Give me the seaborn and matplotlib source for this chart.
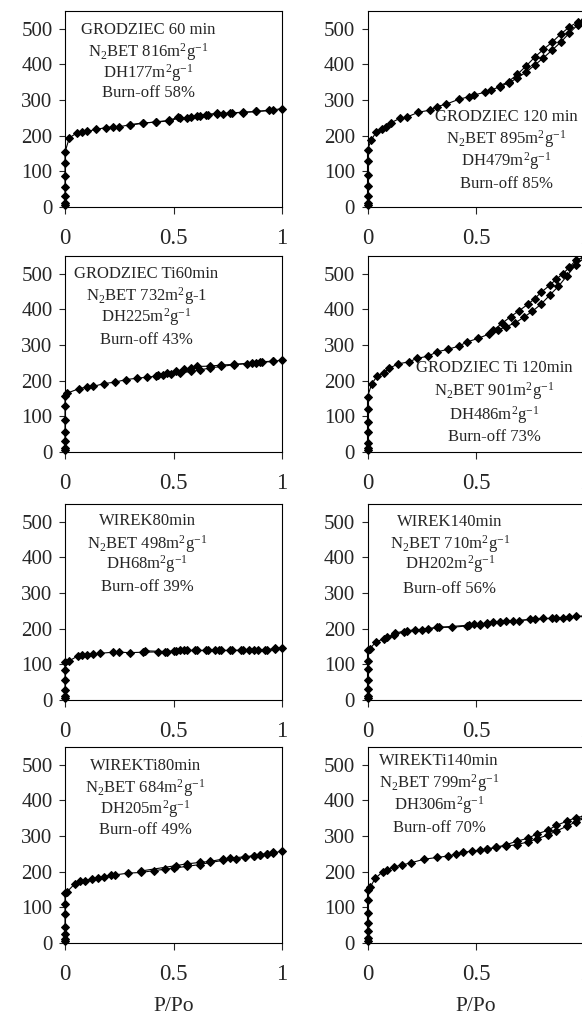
import matplotlib
matplotlib.use("Agg")
import matplotlib.pyplot as plt
import seaborn as sns

# N2 isotherms, adsorbed volume vs relative pressure P/Po
# ads = adsorption branch, des = desorption branch

# GRODZIEC 60 min
g60_ads_p = [0, 0, 0, 0, 0, 0, 0, 0.02, 0.055, 0.08, 0.10, 0.145, 0.19, 0.22, 0.25, 0.30,
             0.36, 0.42, 0.48, 0.53, 0.58, 0.61, 0.65, 0.70, 0.77, 0.82, 0.88, 0.94, 1.0]
g60_ads_v = [5, 12, 30, 56, 87, 124, 154, 194, 208, 210, 212, 218, 223, 225, 225, 231,
             236, 238, 242, 250, 252, 255, 259, 262, 264, 265, 268, 271, 276]
g60_des_p = [0.96, 0.88, 0.82, 0.76, 0.73, 0.70, 0.66, 0.62, 0.56, 0.52, 0.48, 0.42, 0.36, 0.30]
g60_des_v = [272, 268, 266, 264, 260, 263, 259, 256, 250, 252, 243, 239, 235, 230]

# GRODZIEC 120 min
g120_ads_p = [0, 0, 0, 0, 0, 0, 0, 0.017, 0.04, 0.065, 0.083, 0.11, 0.15, 0.18, 0.235, 0.29,
              0.32, 0.36, 0.42, 0.47, 0.49, 0.54, 0.57, 0.61, 0.65, 0.69, 0.73, 0.77, 0.81,
              0.85, 0.89, 0.93, 0.97, 1.0]
g120_ads_v = [5, 12, 30, 60, 90, 128, 160, 188, 210, 220, 225, 237, 249, 252, 266, 272,
              282, 288, 302, 310, 314, 322, 328, 338, 348, 362, 378, 398, 418,
              440, 462, 488, 512, 525]
g120_des_p = [1.0, 0.97, 0.93, 0.89, 0.85, 0.81, 0.77, 0.73, 0.69, 0.65, 0.61]
g120_des_v = [528, 520, 505, 485, 462, 442, 420, 395, 372, 352, 340]

# GRODZIEC Ti 60 min
gti60_ads_p = [0, 0, 0, 0, 0, 0, 0, 0.01, 0.065, 0.10, 0.13, 0.18, 0.23, 0.28, 0.33, 0.38,
               0.42, 0.45, 0.49, 0.53, 0.58, 0.62, 0.67, 0.72, 0.78, 0.84, 0.88, 0.91, 0.96, 1.0]
gti60_ads_v = [5, 10, 30, 55, 90, 128, 158, 165, 178, 182, 184, 192, 196, 203, 207, 210,
               213, 217, 220, 222, 226, 230, 236, 240, 245, 248, 249, 252, 254, 258]
gti60_des_p = [0.96, 0.90, 0.86, 0.78, 0.72, 0.67, 0.61, 0.58, 0.55, 0.51, 0.47, 0.43]
gti60_des_v = [255, 253, 250, 246, 244, 241, 240, 236, 232, 226, 222, 217]

# GRODZIEC Ti 120 min
gti120_ads_p = [0, 0, 0, 0, 0, 0, 0, 0.02, 0.045, 0.075, 0.10, 0.14, 0.19, 0.23, 0.28, 0.32,
                0.37, 0.42, 0.46, 0.51, 0.56, 0.60, 0.64, 0.68, 0.72, 0.76, 0.80, 0.84, 0.88,
                0.92, 0.96, 1.0]
gti120_ads_v = [5, 10, 25, 55, 85, 122, 155, 192, 213, 222, 235, 247, 253, 263, 269, 281,
                288, 297, 309, 319, 331, 342, 352, 362, 378, 395, 415, 440, 465,
                495, 525, 545]
gti120_des_p = [1.0, 0.96, 0.93, 0.90, 0.87, 0.84, 0.80, 0.77, 0.74, 0.70, 0.66, 0.62, 0.58]
gti120_des_v = [548, 538, 518, 500, 485, 468, 448, 430, 415, 397, 380, 361, 342]

# WIREK 80 min
w80_ads_p = [0, 0, 0, 0, 0, 0, 0.02, 0.06, 0.08, 0.10, 0.13, 0.16, 0.22, 0.25, 0.30, 0.36,
             0.43, 0.46, 0.50, 0.53, 0.56, 0.61, 0.65, 0.69, 0.72, 0.77, 0.81, 0.85, 0.89,
             0.93, 0.97, 1.0]
w80_ads_v = [5, 10, 28, 55, 85, 108, 110, 124, 126, 127, 128, 131, 134, 134, 133, 134,
             135, 135, 137, 139, 139, 139, 139, 139, 139, 139, 139, 139, 140,
             141, 143, 145]
w80_des_p = [0.97, 0.92, 0.87, 0.82, 0.76, 0.71, 0.66, 0.60, 0.55, 0.51, 0.47, 0.37]
w80_des_v = [145, 140, 139, 140, 139, 139, 139, 139, 139, 138, 136, 138]

# WIREK 140 min
w140_ads_p = [0, 0, 0, 0, 0, 0, 0, 0.01, 0.04, 0.075, 0.09, 0.12, 0.17, 0.22, 0.25, 0.28,
              0.32, 0.39, 0.46, 0.49, 0.52, 0.55, 0.58, 0.61, 0.64, 0.70, 0.75, 0.81, 0.87,
              0.93, 1.0]
w140_ads_v = [5, 12, 30, 55, 88, 110, 140, 143, 164, 171, 176, 182, 192, 197, 197, 199,
              204, 204, 208, 212, 210, 216, 218, 219, 222, 222, 227, 229, 229,
              233, 236]
w140_des_p = [0.96, 0.90, 0.85, 0.77, 0.67, 0.61, 0.55, 0.52, 0.47, 0.33, 0.18, 0.125]
w140_des_v = [235, 231, 229, 227, 222, 220, 214, 212, 210, 204, 194, 188]

# WIREK Ti 80 min
wti80_ads_p = [0, 0, 0, 0, 0, 0, 0, 0.01, 0.045, 0.07, 0.09, 0.125, 0.15, 0.18, 0.21, 0.23,
               0.29, 0.35, 0.41, 0.46, 0.50, 0.56, 0.62, 0.67, 0.73, 0.79, 0.83, 0.87, 0.90,
               0.93, 0.96, 1.0]
wti80_ads_v = [5, 12, 25, 45, 80, 110, 140, 144, 166, 173, 175, 179, 181, 185, 191, 191,
               196, 198, 203, 207, 210, 215, 220, 226, 232, 236, 240, 244, 246,
               249, 252, 258]
wti80_des_p = [0.96, 0.93, 0.90, 0.87, 0.83, 0.76, 0.73, 0.67, 0.62, 0.56, 0.51, 0.35]
wti80_des_v = [254, 251, 248, 245, 242, 238, 236, 229, 226, 222, 217, 202]

# WIREK Ti 140 min
wti140_ads_p = [0, 0, 0, 0, 0, 0, 0, 0.012, 0.035, 0.07, 0.09, 0.12, 0.16, 0.20, 0.26, 0.32,
                0.37, 0.41, 0.44, 0.48, 0.52, 0.55, 0.59, 0.64, 0.69, 0.74, 0.78, 0.83, 0.87,
                0.92, 0.96, 1.0]
wti140_ads_v = [5, 15, 35, 55, 85, 120, 150, 156, 181, 200, 206, 213, 219, 225, 235, 240,
                244, 249, 254, 258, 260, 263, 268, 272, 276, 284, 292, 303, 314,
                328, 340, 350]
wti140_des_p = [1.0, 0.96, 0.92, 0.87, 0.83, 0.78, 0.74, 0.69, 0.64, 0.59, 0.55]
wti140_des_v = [356, 352, 342, 330, 316, 306, 294, 286, 276, 268, 264]

# sample labels (one list per panel)
g60_text = ["GRODZIEC 60 min", r"N$_2$BET 816m$^2$g$^{-1}$", r"DH177m$^2$g$^{-1}$", "Burn-off 58%"]
g120_text = ["GRODZIEC 120 min", r"N$_2$BET 895m$^2$g$^{-1}$", r"DH479m$^2$g$^{-1}$", "Burn-off 85%"]
gti60_text = ["GRODZIEC Ti60min", r"N$_2$BET 732m$^2$g-1", r"DH225m$^2$g$^{-1}$", "Burn-off 43%"]
gti120_text = ["GRODZIEC Ti 120min", r"N$_2$BET 901m$^2$g$^{-1}$", r"DH486m$^2$g$^{-1}$", "Burn-off 73%"]
w80_text = ["WIREK80min", r"N$_2$BET 498m$^2$g$^{-1}$", r"DH68m$^2$g$^{-1}$", "Burn-off 39%"]
w140_text = ["WIREK140min", r"N$_2$BET 710m$^2$g$^{-1}$", r"DH202m$^2$g$^{-1}$", "Burn-off 56%"]
wti80_text = ["WIREKTi80min", r"N$_2$BET 684m$^2$g$^{-1}$", r"DH205m$^2$g$^{-1}$", "Burn-off 49%"]
wti140_text = ["WIREKTi140min", r"N$_2$BET 799m$^2$g$^{-1}$", r"DH306m$^2$g$^{-1}$", "Burn-off 70%"]

x_ticks = [0, 0.5, 1]
x_tick_labels = ["0", "0.5", "1"]
y_ticks = [0, 100, 200, 300, 400, 500]

sns.set_style("ticks")
plt.rcParams["font.family"] = ["Liberation Serif", "DejaVu Serif"]
plt.rcParams["mathtext.fontset"] = "custom"
plt.rcParams["mathtext.rm"] = "Liberation Serif"
plt.rcParams["mathtext.it"] = "Liberation Serif:italic"
plt.rcParams["mathtext.bf"] = "Liberation Serif:bold"

fig = plt.figure(figsize=(5.82, 10.16), dpi=100)

col_left = [65 / 582, 367.5 / 582]
ax_w = 217 / 582
ax_h = 196 / 1016
row_bottom = [1 - 207 / 1016, 1 - 452 / 1016, 1 - 700 / 1016, 1 - 943 / 1016]

# (row, col, ads_p, ads_v, des_p, des_v, text, text x, text y's)
panels = [
    (0, 0, g60_ads_p, g60_ads_v, g60_des_p, g60_des_v, g60_text, 0.385, [0.905, 0.79, 0.685, 0.58]),
    (0, 1, g120_ads_p, g120_ads_v, g120_des_p, g120_des_v, g120_text, 0.64, [0.457, 0.345, 0.233, 0.115]),
    (1, 0, gti60_ads_p, gti60_ads_v, gti60_des_p, gti60_des_v, gti60_text, 0.375, [0.908, 0.795, 0.69, 0.57]),
    (1, 1, gti120_ads_p, gti120_ads_v, gti120_des_p, gti120_des_v, gti120_text, 0.585, [0.43, 0.31, 0.19, 0.075]),
    (2, 0, w80_ads_p, w80_ads_v, w80_des_p, w80_des_v, w80_text, 0.38, [0.912, 0.797, 0.695, 0.578]),
    (2, 1, w140_ads_p, w140_ads_v, w140_des_p, w140_des_v, w140_text, 0.38, [0.908, 0.796, 0.694, 0.565]),
    (3, 0, wti80_ads_p, wti80_ads_v, wti80_des_p, wti80_des_v, wti80_text, 0.37, [0.905, 0.79, 0.685, 0.575]),
    (3, 1, wti140_ads_p, wti140_ads_v, wti140_des_p, wti140_des_v, wti140_text, 0.33, [0.928, 0.815, 0.703, 0.585]),
]

for row, col, ads_p, ads_v, des_p, des_v, lines, tx, tys in panels:
    ax = fig.add_axes([col_left[col], row_bottom[row], ax_w, ax_h])

    for px, vy in [(ads_p, ads_v), (des_p, des_v)]:
        sns.lineplot(x=px, y=vy, ax=ax, color="black", linewidth=0.8, marker="D",
                     markersize=4.2, markeredgecolor="black", sort=False, estimator=None,
                     clip_on=False)

    ax.set_xlim(0, 1)
    ax.set_ylim(0, 550)
    ax.set_xticks(x_ticks)
    ax.set_xticklabels(x_tick_labels)
    ax.set_yticks(y_ticks)
    ax.tick_params(axis="y", direction="out", length=4, width=0.8, pad=5, labelsize=15)
    ax.tick_params(axis="x", direction="out", length=5, width=0.8, pad=10, labelsize=16.5)
    for sp in ax.spines.values():
        sp.set_color("black")
        sp.set_linewidth(0.8)

    for line, ty in zip(lines, tys):
        ax.text(tx, ty, line, transform=ax.transAxes, ha="center", va="center", fontsize=12)

    if row == 3:
        ax.set_xlabel("P/Po", fontsize=15.5, labelpad=9)
    else:
        ax.set_xlabel("")
    ax.set_ylabel("")

fig.savefig("out.png", dpi=100)
